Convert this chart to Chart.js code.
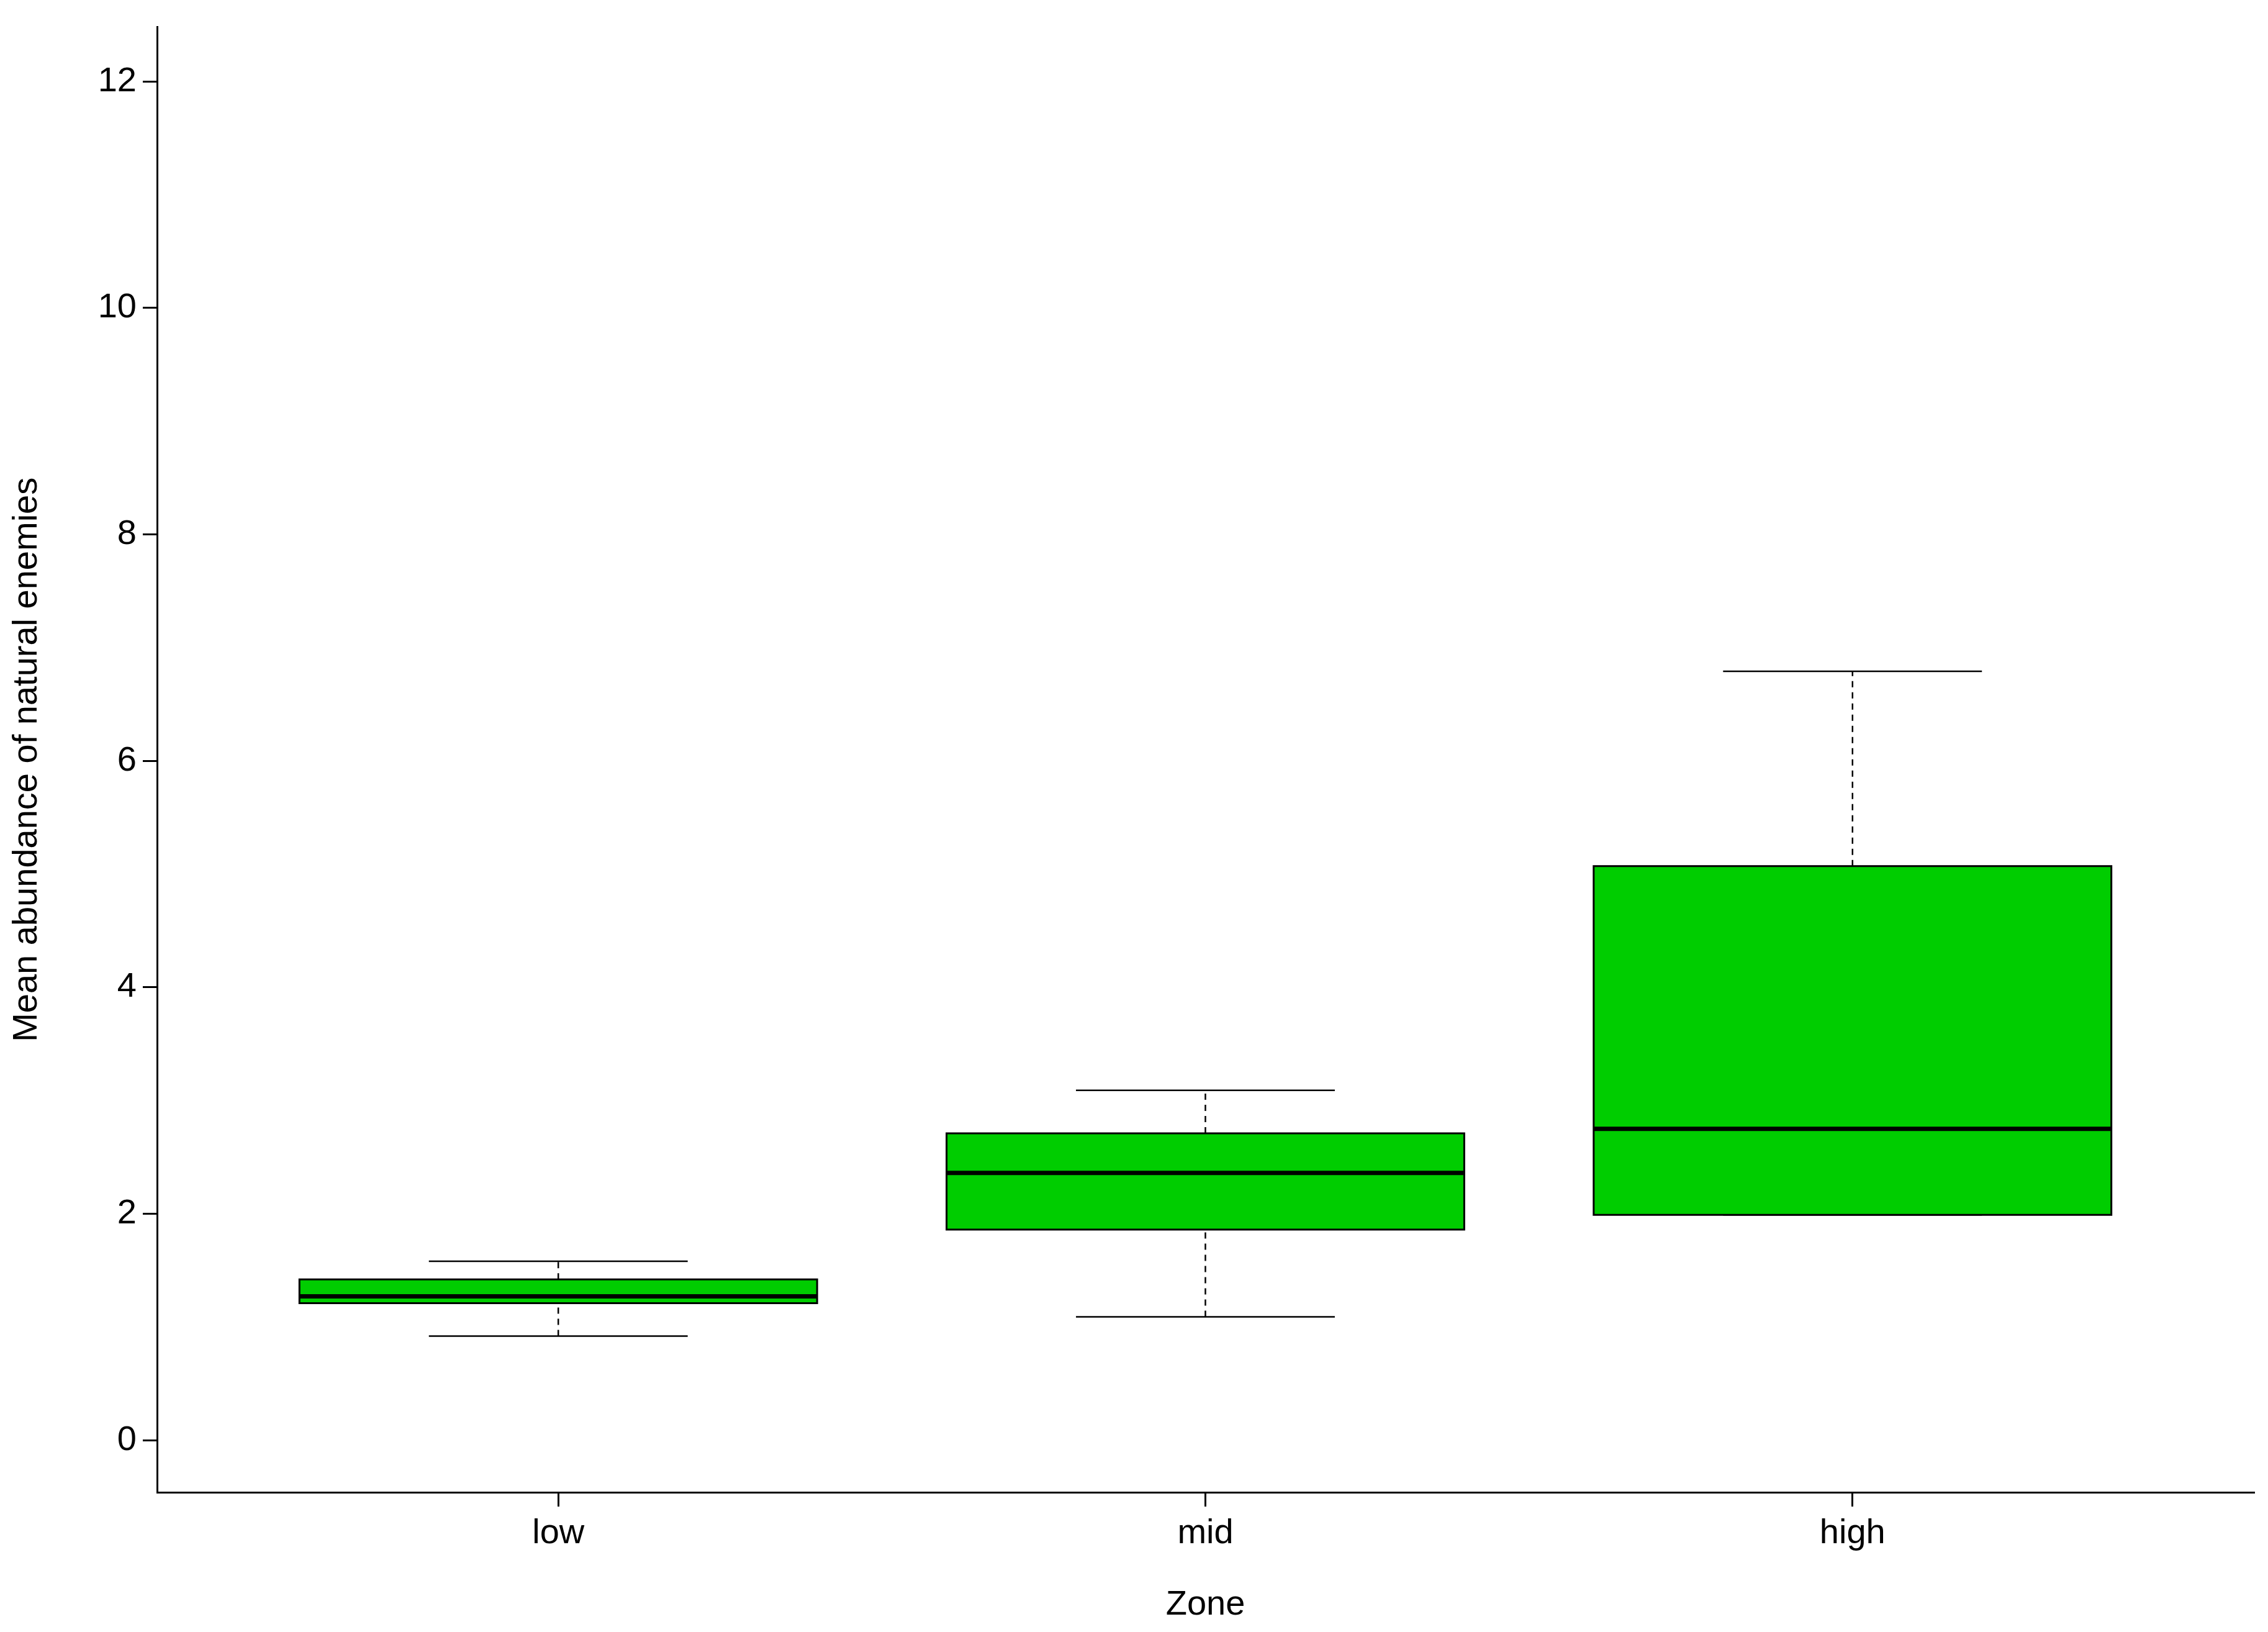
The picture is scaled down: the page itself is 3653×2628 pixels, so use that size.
<!DOCTYPE html>
<html><head><meta charset="utf-8">
<script src="https://cdn.jsdelivr.net/npm/chart.js@4"></script>
<style>html,body{margin:0;padding:0;background:#fff}#w{width:3653px;height:2628px}</style>
</head><body><div id="w"><canvas id="c"></canvas></div>
<script>
const categories = ['low','mid','high'];
const whiskerLow = [0.92, 1.09, 1.99];
const q1 = [1.21, 1.86, 1.99];
const median = [1.27, 2.36, 2.75];
const q3 = [1.42, 2.71, 5.07];
const whiskerHigh = [1.58, 3.09, 6.79];
const yTicks = [0, 2, 4, 6, 8, 10, 12];

const boxPlugin = {
  id: 'boxes',
  afterDatasetsDraw(chart) {
    const ctx = chart.ctx, xs = chart.scales.x, ys = chart.scales.y;
    categories.forEach((c, i) => {
      const xc = xs.getPixelForValue(i + 1);
      const xl = xs.getPixelForValue(i + 1 - 0.4), xr = xs.getPixelForValue(i + 1 + 0.4);
      const cl = xs.getPixelForValue(i + 1 - 0.2), cr = xs.getPixelForValue(i + 1 + 0.2);
      const py = v => ys.getPixelForValue(v);
      ctx.save();
      ctx.strokeStyle = '#000';
      // whiskers dashed
      ctx.lineWidth = 2.5; ctx.setLineDash([10, 8]);
      ctx.beginPath();
      ctx.moveTo(xc, py(whiskerLow[i])); ctx.lineTo(xc, py(q1[i]));
      ctx.moveTo(xc, py(q3[i])); ctx.lineTo(xc, py(whiskerHigh[i]));
      ctx.stroke();
      ctx.setLineDash([]);
      ctx.beginPath();
      ctx.moveTo(cl, py(whiskerLow[i])); ctx.lineTo(cr, py(whiskerLow[i]));
      ctx.moveTo(cl, py(whiskerHigh[i])); ctx.lineTo(cr, py(whiskerHigh[i]));
      ctx.stroke();
      // box
      ctx.fillStyle = '#00CD00';
      ctx.fillRect(xl, py(q3[i]), xr - xl, py(q1[i]) - py(q3[i]));
      ctx.lineWidth = 3;
      ctx.strokeRect(xl, py(q3[i]), xr - xl, py(q1[i]) - py(q3[i]));
      // median
      ctx.lineWidth = 7;
      ctx.beginPath(); ctx.moveTo(xl, py(median[i])); ctx.lineTo(xr, py(median[i])); ctx.stroke();
      ctx.restore();
    });
  }
};

const font = {family: 'Liberation Sans, Arial, sans-serif', size: 56};
new Chart(document.getElementById('c'), {
  type: 'scatter',
  data: {datasets: [{data: categories.map((c, i) => ({x: i + 1, y: median[i]})), pointRadius: 0}]},
  options: {
    responsive: true, maintainAspectRatio: false, animation: false,
    devicePixelRatio: 1,
    layout: {padding: {top: 42, right: 23, left: 10, bottom: 10}},
    plugins: {legend: {display: false}, tooltip: {enabled: false}},
    scales: {
      x: {
        type: 'linear', min: 0.38, max: 3.62,
        afterBuildTicks: s => { s.ticks = categories.map((c, i) => ({value: i + 1})); },
        ticks: {callback: (v) => categories[v - 1] || '', color: '#000', font, padding: 10},
        grid: {drawOnChartArea: false, tickLength: 23, color: '#000', lineWidth: 3},
        border: {display: true, color: '#000', width: 3},
        title: {display: true, text: 'Zone', color: '#000', font, padding: {top: 10, bottom: 0}},
        afterFit: s => { s.height = 2628 - 2403 - 10; }
      },
      y: {
        min: -0.46, max: 12.48,
        afterBuildTicks: s => { s.ticks = yTicks.map(v => ({value: v})); },
        ticks: {color: '#000', font, padding: 10},
        grid: {drawOnChartArea: false, tickLength: 23, color: '#000', lineWidth: 3},
        border: {display: true, color: '#000', width: 3},
        title: {display: true, text: 'Mean abundance of natural enemies', color: '#000', font, padding: {top: 0, bottom: 20}},
        afterFit: s => { s.width = 243; }
      }
    }
  },
  plugins: [boxPlugin]
});
</script></body></html>
